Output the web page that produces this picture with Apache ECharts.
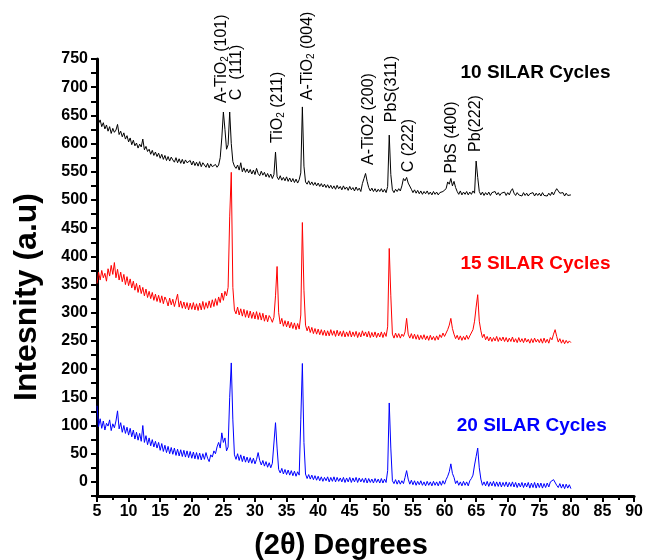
<!DOCTYPE html>
<html><head><meta charset="utf-8">
<script src="https://cdn.jsdelivr.net/npm/echarts@6/dist/echarts.min.js"></script>
<style>html,body{margin:0;padding:0;background:#fff}#c{width:646px;height:560px}</style>
</head><body><div id="c"></div>
<script>
// sampling grid of the scans (2θ, degrees)
const xStart = 5, xStep = 0.25;

// 10 SILAR cycles (black), one row = 5 degrees
const black10 = [
 645,636,642,630,637,626,633,622,630,618,627,620,624,634,616,622,612,619,608,614,
 603,610,598,606,596,601,592,599,594,608,589,595,586,590,581,588,579,585,577,583,
 574,581,572,579,570,577,569,576,571,567,575,566,573,565,572,564,571,566,563,570,
 562,569,561,567,560,568,559,566,562,558,565,557,564,559,556,563,558,562,575,610,
 656,625,590,598,656,600,568,560,556,562,553,566,550,557,549,555,548,554,546,553,
 545,556,547,543,551,544,549,541,547,540,546,538,545,585,541,536,543,535,540,534,
 541,533,539,532,538,531,537,530,536,548,665,560,532,528,534,527,532,526,531,525,
 530,524,529,523,528,522,527,521,526,520,525,519,526,520,524,518,525,519,523,517,
 524,518,522,516,523,517,521,515,529,538,547,533,522,516,521,515,520,514,519,515,
 520,514,519,513,524,615,545,518,513,519,515,520,516,525,538,534,540,530,527,519,
 513,518,512,517,511,516,510,515,511,516,510,514,509,515,510,514,509,513,510,515,
 512,520,532,528,538,525,533,522,515,510,516,509,514,510,515,509,514,510,516,512,
 569,540,515,509,514,508,513,509,514,508,513,510,515,509,513,508,512,509,514,508,
 513,509,516,520,512,508,513,509,512,507,513,508,512,507,511,508,513,507,512,508,
 512,507,513,508,511,507,512,508,514,509,515,520,523,512,509,513,507,512,508,511,
 509
];
// 15 SILAR cycles (red)
const red15 = [
 352,372,358,375,362,370,356,378,365,384,368,389,362,377,358,372,355,368,350,364,
 348,360,344,356,340,352,336,349,334,345,330,342,327,338,325,336,322,333,320,331,
 318,330,316,328,322,312,326,314,324,311,322,333,310,321,308,319,307,318,305,317,
 306,318,305,316,304,317,305,320,306,318,308,321,309,323,311,325,313,328,318,335,
 322,338,330,345,470,549,345,305,298,310,296,307,294,306,292,304,291,303,290,301,
 289,302,288,300,287,299,285,296,284,295,290,283,292,330,382,300,280,290,276,286,
 275,285,273,283,272,282,270,281,271,296,460,340,278,268,276,265,274,263,272,262,
 271,261,270,260,269,259,268,259,270,260,268,258,269,259,267,258,268,257,266,258,
 268,257,266,258,267,256,265,257,268,259,266,257,267,256,265,257,266,256,264,257,
 266,256,265,258,275,414,330,262,255,264,256,263,255,262,258,266,290,262,255,263,
 254,262,253,261,252,260,253,261,252,259,251,260,252,258,251,259,252,261,256,264,
 258,264,270,278,290,272,262,254,260,252,259,251,258,252,260,253,259,262,270,285,
 310,332,285,268,256,262,252,258,250,257,249,256,250,258,249,256,250,257,249,256,
 248,255,249,257,248,254,247,256,248,254,247,255,248,253,246,254,247,255,248,253,
 247,254,246,255,247,253,246,256,252,262,270,258,248,254,246,252,245,251,246,250,
 247
];
// 20 SILAR cycles (blue)
const blue20 = [
 135,98,112,95,108,92,104,99,110,91,103,96,108,126,94,105,88,100,86,97,
 83,95,80,92,76,88,74,86,72,100,70,82,66,78,64,75,62,72,60,70,
 56,68,54,65,52,63,50,61,49,60,47,58,46,57,45,56,44,55,43,54,
 42,53,41,52,40,51,39,50,40,52,42,36,48,44,55,50,62,70,60,87,
 70,78,55,62,150,211,110,48,40,50,38,48,36,46,35,44,34,43,33,42,
 32,40,52,38,30,38,28,36,26,34,25,33,30,105,60,22,16,24,14,22,
 13,21,12,20,11,19,10,18,12,110,210,70,14,6,13,5,12,4,11,3,
 10,2,9,1,8,2,9,0,8,1,9,0,8,1,7,0,8,-1,7,0,
 8,-1,7,0,8,-1,7,0,6,-1,7,-2,6,-1,5,-2,6,-1,5,-2,
 6,-2,5,-1,20,140,60,2,-3,4,-4,3,-4,2,-3,8,20,5,-4,3,
 -5,2,-6,1,-5,2,-6,0,-7,1,-6,0,-7,1,-6,0,-7,1,-6,2,
 -4,4,10,18,32,15,8,-3,2,-6,0,-7,1,-6,0,-7,2,6,12,30,
 45,60,25,5,-6,0,-7,1,-8,0,-7,1,-8,0,-8,0,-9,-1,-8,0,
 -9,-1,-8,0,-9,-1,-10,-2,-9,-1,-10,-2,-9,-1,-11,-2,-10,-1,-11,-2,
 -10,-2,-11,-3,-10,-2,-9,0,-2,4,2,-6,-10,-3,-11,-4,-12,-4,-11,-5,
 -12
];

// axes
const xMin = 5, xMax = 90, xInterval = 5;
const yMin = -25, yMax = 750, yInterval = 25, yLabelEvery = 50;

// series names and where their captions sit (data coords)
const seriesNames = ['10 SILAR Cycles', '15 SILAR Cycles', '20 SILAR Cycles'];
const seriesColors = ['#000000', '#ff0000', '#0000ff'];
const captionX = [74.4, 74.4, 73.8];
const captionY = [725, 386, 100];

// peak annotations: [before-subscript, subscript, after], anchor (2θ, intensity)
const peakText = [
 ['A-TiO', '2', ' (101)'],
 ['C  (111)', '', ''],
 ['TiO', '2', ' (211)'],
 ['A-TiO', '2', ' (004)'],
 ['A-TiO2 (200)', '', ''],
 ['PbS(311)', '', ''],
 ['C (222)', '', ''],
 ['PbS (400)', '', ''],
 ['Pb(222)', '', '']
];
const peakX = [24.72, 27.08, 33.55, 38.28, 48.06, 51.69, 54.37, 61.15, 64.94];
const peakY = [672, 677, 601, 677, 562, 638, 549, 547, 585];

const FONT = '"Liberation Sans", Arial, sans-serif';
const toPairs = arr => arr.map((v, i) => [xStart + i * xStep, v]);
const allData = [black10, red15, blue20];

const chart = echarts.init(document.getElementById('c'), null, {renderer: 'canvas'});
chart.setOption({
  animation: false,
  backgroundColor: '#fff',
  grid: {left: 97, right: 10, top: 59, bottom: 64, containLabel: false},
  xAxis: {
    type: 'value', min: xMin, max: xMax, interval: xInterval,
    axisLine: {show: true, onZero: false, lineStyle: {color: '#000', width: 3}},
    axisTick: {show: true, inside: false, length: 6, lineStyle: {color: '#000', width: 2}},
    minorTick: {show: true, splitNumber: 2, length: 4, lineStyle: {color: '#000', width: 2}},
    axisLabel: {color: '#000', fontFamily: FONT, fontWeight: 'bold', fontSize: 16, margin: 8},
    splitLine: {show: false}
  },
  yAxis: {
    type: 'value', min: yMin, max: yMax, interval: yInterval,
    axisLine: {show: true, onZero: false, lineStyle: {color: '#000', width: 3}},
    axisTick: {show: true, inside: false, length: 6, lineStyle: {color: '#000', width: 2}},
    axisLabel: {color: '#000', fontFamily: FONT, fontWeight: 'bold', fontSize: 16, margin: 9,
      formatter: v => (v % yLabelEvery === 0 ? String(v) : '')},
    splitLine: {show: false}
  },
  series: allData.map((d, i) => ({
    type: 'line', name: seriesNames[i], data: toPairs(d), showSymbol: false, symbol: 'none',
    lineStyle: {color: seriesColors[i], width: 1}, itemStyle: {color: seriesColors[i]},
    silent: true, z: 3 - i
  }))
});

const g = [];
// axis titles
g.push({type: 'text', x: 27, y: 297, rotation: Math.PI / 2,
  style: {text: 'Intesnity (a.u)', fill: '#000', font: 'bold 32px ' + FONT, align: 'center', verticalAlign: 'middle'}});
g.push({type: 'text', x: 341, y: 546,
  style: {text: '(2\u03B8) Degrees', fill: '#000', font: 'bold 29px ' + FONT, align: 'center', verticalAlign: 'middle'}});
// series captions
seriesNames.forEach((n, i) => {
  const p = chart.convertToPixel({xAxisIndex: 0, yAxisIndex: 0}, [captionX[i], captionY[i]]);
  g.push({type: 'text', x: p[0], y: p[1],
    style: {text: n, fill: seriesColors[i], font: 'bold 19px ' + FONT, align: 'center', verticalAlign: 'middle'}});
});
// peak labels (vertical, reading upward)
peakText.forEach((t, i) => {
  const p = chart.convertToPixel({xAxisIndex: 0, yAxisIndex: 0}, [peakX[i], peakY[i]]);
  let txt = '{a|' + t[0] + '}';
  if (t[1]) txt += '{b|' + t[1] + '}';
  if (t[2]) txt += '{a|' + t[2] + '}';
  g.push({type: 'text', x: p[0], y: p[1], rotation: Math.PI / 2,
    style: {text: txt, align: 'left', verticalAlign: 'middle', fill: '#000',
      rich: {
        a: {fontSize: 16, fontFamily: FONT, fill: '#000', lineHeight: 18, verticalAlign: 'middle'},
        b: {fontSize: 10, fontFamily: FONT, fill: '#000', lineHeight: 10, verticalAlign: 'bottom'}
      }}});
});
chart.setOption({graphic: g});
</script>
</body></html>
